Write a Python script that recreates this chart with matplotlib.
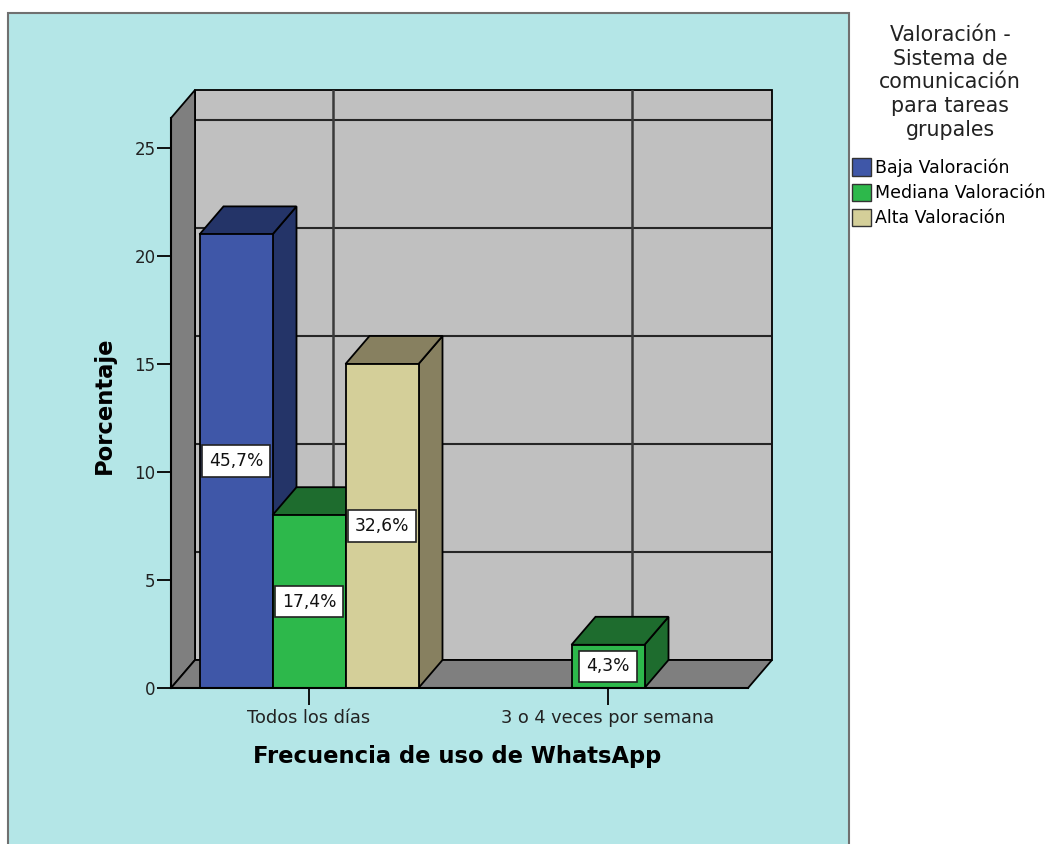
import matplotlib
matplotlib.use("Agg")
import matplotlib.pyplot as plt
from matplotlib.patches import Polygon, Rectangle, Patch

plt.rcParams['font.family'] = ['DejaVu Sans']

# ---------------- data ----------------
categories = ["Todos los días", "3 o 4 veces por semana"]
series_names = ["Baja Valoración", "Mediana Valoración", "Alta Valoración"]
# bar heights per series for each category (0 = no bar)
baja = [21.0, 0.0]
mediana = [8.0, 2.0]
alta = [15.0, 0.0]
labels_baja = ["45,7%", ""]
labels_mediana = ["17,4%", "4,3%"]
labels_alta = ["32,6%", ""]
yticks = [0, 5, 10, 15, 20, 25]
legend_title = "Valoración -\nSistema de\ncomunicación\npara tareas\ngrupales"
x_title = "Frecuencia de uso de WhatsApp"
y_title = "Porcentaje"

# ---------------- style ----------------
front_cols = ["#3f57a8", "#2db84b", "#d4cf99"]
dark_cols = ["#243468", "#1e6c2e", "#878060"]
BG = "#b4e6e7"
WALL = "#c0c0c0"
SIDE = "#7f7f7f"

W, H = 1052, 844
fig = plt.figure(figsize=(W / 100, H / 100), dpi=100)
fig.patch.set_facecolor("white")

# outer chart frame
fig.patches.append(Rectangle((8 / W, -0.01), (849 - 8) / W, (H - 13) / H + 0.01,
                             transform=fig.transFigure, facecolor=BG,
                             edgecolor="#707070", lw=1.5, zorder=0))

# axes geometry (pixels)
L, R, B, T = 171, 771, 688, 90
ax = fig.add_axes([L / W, (H - B) / H, (R - L) / W, (B - T) / H])
ax.set_zorder(2)
ax.patch.set_visible(False)

px_x = 299.0   # pixels per category unit
px_y = 21.6    # pixels per value unit
x_left = (L - 309) / px_x
ax.set_xlim(x_left, x_left + (R - L) / px_x)
ax.set_ylim(0, (B - T) / px_y)

DX = 24 / px_x
DY = 28 / px_y
x_right = (748 - 309) / px_x
y_top = (B - 118) / px_y
bw = 73 / px_x

for s in ax.spines.values():
    s.set_visible(False)

# back wall
ax.add_patch(Rectangle((x_left + DX, DY), x_right - x_left, y_top, facecolor=WALL,
                       edgecolor="black", lw=1.3, zorder=1, clip_on=False))
# gridlines on back wall
for yv in yticks[1:]:
    ax.plot([x_left + DX, x_right + DX], [yv + DY, yv + DY], color="#262626", lw=1.5, zorder=2)
for i in range(len(categories)):
    ax.plot([i + DX, i + DX], [DY, y_top + DY], color="#3a3a3a", lw=1.8, zorder=2)
# left wall
ax.add_patch(Polygon([(x_left, 0), (x_left, y_top), (x_left + DX, y_top + DY), (x_left + DX, DY)],
                     closed=True, facecolor=SIDE, edgecolor="black", lw=1.3, zorder=3, clip_on=False))
# floor
ax.add_patch(Polygon([(x_left, 0), (x_right, 0), (x_right + DX, DY), (x_left + DX, DY)],
                     closed=True, facecolor=SIDE, edgecolor="black", lw=1.3, zorder=3, clip_on=False))

series = [baja, mediana, alta]
series_labels = [labels_baja, labels_mediana, labels_alta]
z = 4
for ci in range(len(categories)):
    for si in range(3):
        v = series[si][ci]
        if v <= 0:
            continue
        x0 = ci + (si - 1.5) * bw
        x1 = x0 + bw
        # side
        ax.add_patch(Polygon([(x1, 0), (x1 + DX, DY), (x1 + DX, v + DY), (x1, v)], closed=True,
                             facecolor=dark_cols[si], edgecolor="black", lw=1.3, zorder=z))
        # top
        ax.add_patch(Polygon([(x0, v), (x0 + DX, v + DY), (x1 + DX, v + DY), (x1, v)], closed=True,
                             facecolor=dark_cols[si], edgecolor="black", lw=1.3, zorder=z))
        # front
        ax.add_patch(Rectangle((x0, 0), bw, v, facecolor=front_cols[si], edgecolor="black",
                               lw=1.3, zorder=z + 1))
        lab = series_labels[si][ci]
        if lab:
            ax.text((x0 + x1) / 2, v / 2, lab, ha="center", va="center", fontsize=12.3,
                    zorder=z + 3, color="#111111",
                    bbox=dict(boxstyle="square,pad=0.4", facecolor="white",
                              edgecolor="#222222", lw=1.2))
        z += 5

# axes lines
ax.plot([x_left, x_left], [0, y_top], color="black", lw=1.5, zorder=50, clip_on=False)
ax.plot([x_left, x_right], [0, 0], color="black", lw=1.5, zorder=50, clip_on=False)

ax.set_yticks(yticks)
ax.set_yticklabels([str(t) for t in yticks], fontsize=12, color="#222222")
ax.tick_params(axis="y", length=10, width=1.3, pad=1, direction="out")
ax.set_xticks(range(len(categories)))
ax.set_xticklabels(categories, fontsize=12.8, color="#222222")
ax.tick_params(axis="x", length=12, width=1.3, pad=3, direction="out")

fig.text(104 / W, 1 - 405 / H, y_title, rotation=90, ha="center", va="center",
         fontsize=16.3, fontweight="bold")
fig.text(457 / W, 1 - 757 / H, x_title, ha="center", va="center",
         fontsize=16.3, fontweight="bold")

# legend title (centered block) and entries
fig.text(950 / W, 1 - 25 / H, legend_title, ha="center", va="top", fontsize=14.8,
         linespacing=1.23, color="#222222", multialignment="center")
handles = [Patch(facecolor=c, edgecolor="#333333", lw=1) for c in front_cols]
leg = fig.legend(handles, series_names, loc="upper left",
                 bbox_to_anchor=(849 / W, 1 - 155 / H), frameon=False, fontsize=12.5,
                 handlelength=1.05, handleheight=1.15, handletextpad=0.25,
                 labelspacing=0.38, borderaxespad=0, borderpad=0.2)

fig.savefig("out.png", dpi=100, facecolor=fig.get_facecolor())
